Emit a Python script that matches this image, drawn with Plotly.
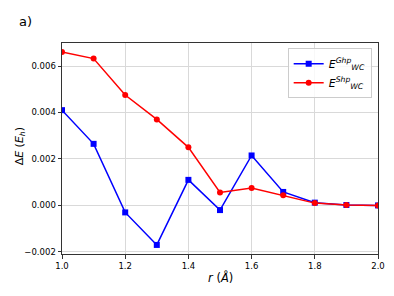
import plotly.graph_objects as go

r = [1.0, 1.1, 1.2, 1.3, 1.4, 1.5, 1.6, 1.7, 1.8, 1.9, 2.0]
e_ghp = [0.0041, 0.00265, -0.0003, -0.0017, 0.0011, -0.0002, 0.00215, 0.00058, 0.00012, 0.00002, 0.0]
e_shp = [0.0066, 0.00632, 0.00475, 0.0037, 0.0025, 0.00056, 0.00075, 0.00044, 0.0001, 0.00002, 0.0]
x_ticks = [1.0, 1.2, 1.4, 1.6, 1.8, 2.0]
y_ticks = [-0.002, 0.0, 0.002, 0.004, 0.006]

font = "DejaVu Sans"
fig = go.Figure()
fig.add_trace(go.Scatter(x=r, y=e_ghp, mode="lines+markers",
                         line=dict(color="blue", width=1.5),
                         marker=dict(symbol="square", size=6, color="blue"),
                         name="<i>E</i><sup><i>Ghp</i></sup><sub><i>WC</i></sub>"))
fig.add_trace(go.Scatter(x=r, y=e_shp, mode="lines+markers",
                         line=dict(color="red", width=1.5),
                         marker=dict(symbol="circle", size=6, color="red"),
                         name="<i>E</i><sup><i>Shp</i></sup><sub><i>WC</i></sub>"))

axis_common = dict(showline=True, linecolor="#333", linewidth=1, mirror=True,
                   showgrid=True, gridcolor="#d9d9d9", gridwidth=1, automargin=False,
                   ticks="outside", ticklen=3.5, tickcolor="#333", zeroline=False,
                   tickfont=dict(family=font, size=8.5, color="black"))
fig.update_xaxes(range=[1.0, 2.0], tickvals=x_ticks, ticktext=[f"{v:.1f}" for v in x_ticks],
                 **axis_common)
fig.update_yaxes(range=[-0.00209, 0.00699], tickvals=y_ticks,
                 ticktext=["\u22120.002", "0.000", "0.002", "0.004", "0.006"],
                 **axis_common)
fig.update_layout(
    width=394, height=296,
    margin=dict(l=62, r=16, t=43, b=42, autoexpand=False),
    plot_bgcolor="white", paper_bgcolor="white",
    font=dict(family=font, color="black"),
    legend=dict(x=0.98, y=0.975, xanchor="right", yanchor="top",
                bgcolor="rgba(255,255,255,0.8)", bordercolor="#cccccc", borderwidth=1,
                font=dict(family=font, size=11), tracegroupgap=4, itemwidth=30),
    annotations=[
        dict(text="a)", xref="paper", yref="paper", x=-0.142, y=1.10,
             xanchor="left", yanchor="middle", showarrow=False,
             font=dict(family=font, size=13, color="black")),
        dict(text="<i>r</i> (<i>Å</i>)", xref="paper", yref="paper", x=0.5, y=-0.113,
             xanchor="center", yanchor="middle", showarrow=False,
             font=dict(family=font, size=11.5, color="black")),
        dict(text="Δ<i>E</i> (<i>E</i><sub><i>h</i></sub>)", xref="paper", yref="paper",
             x=-0.133, y=0.51, xanchor="center", yanchor="middle", textangle=-90,
             showarrow=False, font=dict(family=font, size=11, color="black")),
    ],
)
fig.write_html("out.html", config={"displayModeBar": False},
               post_script="document.body.style.margin='0px';document.body.style.overflow='hidden';")
